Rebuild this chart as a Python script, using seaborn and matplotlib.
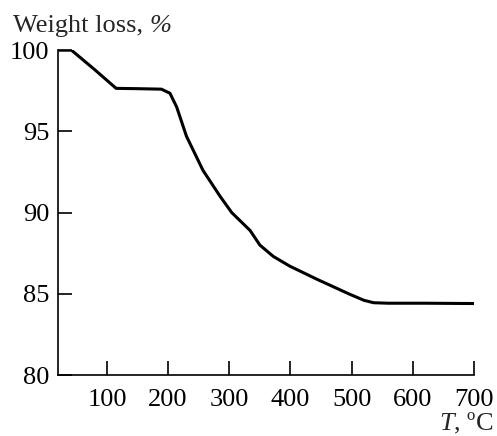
import seaborn as sns
import matplotlib.pyplot as plt
import pandas as pd

temperature = [20, 42, 80, 115, 150, 189, 203, 214, 230, 257, 285, 304, 334, 350, 372, 399, 443, 497, 520, 536, 560, 620, 700]
weight = [100.0, 100.0, 98.8, 97.65, 97.63, 97.6, 97.35, 96.5, 94.7, 92.6, 91.0, 90.0, 88.9, 88.0, 87.3, 86.7, 85.9, 84.97, 84.6, 84.45, 84.42, 84.42, 84.4]
x_ticks = [100, 200, 300, 400, 500, 600, 700]
y_ticks = [80, 85, 90, 95, 100]

df = pd.DataFrame({"T": temperature, "w": weight})

sns.set_theme(style="white")
plt.rcParams['font.family'] = ['Liberation Serif', 'DejaVu Serif']
plt.rcParams['mathtext.fontset'] = 'custom'
plt.rcParams['mathtext.rm'] = 'Liberation Serif'
plt.rcParams['mathtext.it'] = 'Liberation Serif:italic'

fig = plt.figure(figsize=(4.97, 4.36), dpi=100)
ax = fig.add_axes([0.1167, 0.1399, 0.837, 0.745])

sns.lineplot(data=df, x="T", y="w", color="black", linewidth=2.2, ax=ax)

ax.set_xlim(20, 700)
ax.set_ylim(80, 100)
ax.set_xticks(x_ticks)
ax.set_yticks(y_ticks)
ax.tick_params(direction="in", length=10, width=1.2, labelsize=19, colors="black",
               bottom=True, left=True, pad=6)
ax.tick_params(axis="x", pad=10)
for s in ["top", "right"]:
    ax.spines[s].set_visible(False)
for s in ["left", "bottom"]:
    ax.spines[s].set_color("black")
    ax.spines[s].set_linewidth(1.2)
ax.set_xlabel("")
ax.set_ylabel("")

# axis captions, italic symbols
t1 = fig.text(0.026, 0.927, "Weight loss,", fontsize=19, ha="left", va="baseline")
fig.canvas.draw()
bb = t1.get_window_extent()
fig.text((bb.x1 + 7) / fig.bbox.width, 0.927, "%", fontsize=19, ha="left",
         va="baseline", style="italic")
fig.text(0.993, 0.012, r"$\mathit{T}$, ºC", fontsize=19, ha="right", va="baseline")

fig.savefig("out.png", dpi=100)
